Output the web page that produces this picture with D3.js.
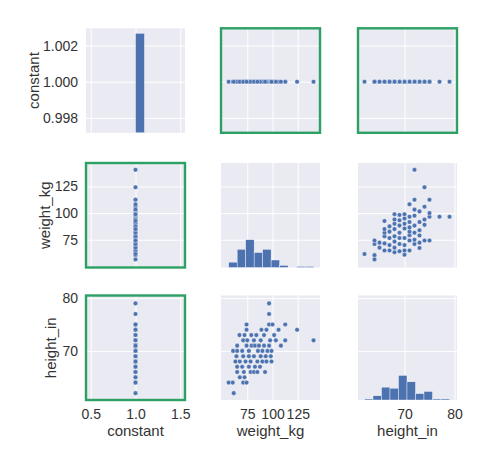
<!DOCTYPE html>
<html>
<head>
<meta charset="utf-8">
<script src="https://cdn.jsdelivr.net/npm/d3@7"></script>
<style>
  body { margin: 0; background: #ffffff; }
  text { font-family: "Liberation Sans", Arial, sans-serif; }
</style>
</head>
<body>
<svg id="chart" width="491" height="459"></svg>
<script>
// ---------------- data ----------------
const variables = ["constant", "weight_kg", "height_in"];

// paired observations: weight (kg) and height (in)
const weightKg = [
  96.6,
  96.6,
  74.3, 96.6, 100, 112.6,
  74.3, 89, 94, 106, 124.3,
  67.3, 72.3, 79, 84, 91.6, 101.6,
  71, 75, 81.6, 88.3, 97.6, 103.3, 112.6, 140.6,
  65, 74.3, 79.3, 82.6, 86.6, 91.6, 96.6, 108.3,
  61, 65, 70, 76.6, 85.6, 90, 95, 99,
  64.3, 71, 76.6, 81.6, 88.3, 93.3, 98.3,
  63.3, 67.6, 73.3, 78.3, 85, 90, 94, 99,
  65, 70, 76.6, 82.6, 87.6,
  65, 71.6, 78.3, 81.6, 85, 92.6,
  67.6, 72.3,
  56.6, 60.6, 71, 74.3,
  61.6
];
const heightIn = [
  79,
  77,
  75, 75, 75, 75,
  74, 74, 74, 74, 74,
  73, 73, 73, 73, 73, 73,
  72, 72, 72, 72, 72, 72, 72, 72,
  71, 71, 71, 71, 71, 71, 71, 71,
  70, 70, 70, 70, 70, 70, 70, 70,
  69, 69, 69, 69, 69, 69, 69,
  68, 68, 68, 68, 68, 68, 68, 68,
  67, 67, 67, 67, 67,
  66, 66, 66, 66, 66, 66,
  65, 65,
  64, 64, 64, 64,
  62
];
const constantValue = 1;

// histograms on the diagonal (bin edges and counts)
const constantHistEdges = [1.0, 1.1];
const constantHistCounts = [93];
const weightHistEdges = [56.6, 65, 73.4, 81.8, 90.2, 98.6, 107, 115.4, 123.8, 132.2, 140.6];
const weightHistCounts = [5, 17, 26, 14, 17, 7, 2, 0, 1, 1];
const heightHistEdges = [62, 63.7, 65.4, 67.1, 68.8, 70.5, 72.2, 73.9, 75.6, 77.3, 79];
const heightHistCounts = [1, 4, 12, 11, 23, 17, 6, 8, 1, 1];

// tick values
const constantXTicks = [0.5, 1.0, 1.5];
const constantYTicks = [0.998, 1.000, 1.002];
const weightTicks = [75, 100, 125];
const heightTicks = [70, 80];

// ---------------- layout ----------------
const svg = d3.select("#chart");
const colX = [86, 221, 358], colW = 99;
const rowY = [28.3, 163, 295.5], rowH = 104.5;
const bg = "#EAEAF2", blue = "#4C72B0", green = "#2ca065", textCol = "#333333";

const xDomains = {
  constant: [0.447, 1.553],
  weight_kg: [49, 147],
  height_in: [60.7, 80.5]
};
const yDomains = {
  constant: [0.99717, 1.00296],
  weight_kg: [49, 147],
  height_in: [60.7, 80.5]
};
const ticksFor = {
  x: { constant: constantXTicks, weight_kg: weightTicks, height_in: heightTicks },
  y: { constant: constantYTicks, weight_kg: weightTicks, height_in: heightTicks }
};
const fmt = {
  x: { constant: d3.format(".1f"), weight_kg: d3.format("d"), height_in: d3.format("d") },
  y: { constant: d3.format(".3f"), weight_kg: d3.format("d"), height_in: d3.format("d") }
};

const xScales = variables.map((v, j) => d3.scaleLinear().domain(xDomains[v]).range([colX[j], colX[j] + colW]));
const yScales = variables.map((v, i) => d3.scaleLinear().domain(yDomains[v]).range([rowY[i] + rowH, rowY[i]]));

const values = {
  constant: weightKg.map(() => constantValue),
  weight_kg: weightKg,
  height_in: heightIn
};
const hist = {
  constant: { edges: constantHistEdges, counts: constantHistCounts },
  weight_kg: { edges: weightHistEdges, counts: weightHistCounts },
  height_in: { edges: heightHistEdges, counts: heightHistCounts }
};
const maxCount = d3.max(constantHistCounts.concat(weightHistCounts, heightHistCounts));

variables.forEach((rv, i) => {
  variables.forEach((cv, j) => {
    const x = xScales[j], y = yScales[i];
    const g = svg.append("g");
    // background
    g.append("rect").attr("x", colX[j]).attr("y", rowY[i])
      .attr("width", colW).attr("height", rowH).attr("fill", bg);
    // grid lines
    const gx = g.append("g").attr("transform", `translate(0,${rowY[i] + rowH})`)
      .call(d3.axisBottom(x).tickValues(ticksFor.x[cv]).tickSize(-rowH).tickFormat(""));
    const gy = g.append("g").attr("transform", `translate(${colX[j]},0)`)
      .call(d3.axisLeft(y).tickValues(ticksFor.y[rv]).tickSize(-colW).tickFormat(""));
    [gx, gy].forEach(a => {
      a.select(".domain").remove();
      a.selectAll("line").attr("stroke", "#ffffff").attr("stroke-width", 1);
    });

    if (i === j) {
      const h = hist[cv];
      const cy = d3.scaleLinear().domain([0, maxCount * 1.05]).range([rowY[i] + rowH, rowY[i]]);
      const bins = h.counts.map((c, k) => ({ x0: h.edges[k], x1: h.edges[k + 1], c }));
      g.selectAll("rect.bar").data(bins.filter(b => b.c > 0)).join("rect")
        .attr("class", "bar")
        .attr("x", d => x(d.x0))
        .attr("width", d => Math.max(0, x(d.x1) - x(d.x0)))
        .attr("y", d => cy(d.c))
        .attr("height", d => cy(0) - cy(d.c))
        .attr("fill", blue)
        .attr("stroke", "#ffffff").attr("stroke-width", 0.4);
    } else {
      const pts = values[cv].map((vx, k) => [vx, values[rv][k]]);
      g.selectAll("circle").data(pts).join("circle")
        .attr("cx", d => x(d[0]))
        .attr("cy", d => y(d[1]))
        .attr("r", 2.3)
        .attr("fill", blue)
        .attr("stroke", "#ffffff").attr("stroke-width", 0.4);
    }

    if ((i === 0 || j === 0) && i !== j) {
      g.append("rect").attr("x", colX[j]).attr("y", rowY[i])
        .attr("width", colW).attr("height", rowH)
        .attr("fill", "none").attr("stroke", green).attr("stroke-width", 2.4);
    }

    // tick labels
    if (j === 0) {
      const a = g.append("g").attr("transform", `translate(${colX[0]},0)`)
        .call(d3.axisLeft(y).tickValues(ticksFor.y[rv]).tickSize(0).tickPadding(8).tickFormat(fmt.y[rv]));
      a.select(".domain").remove();
      a.selectAll("text").attr("font-size", 14).attr("fill", textCol)
        .style("font-family", '"Liberation Sans", Arial, sans-serif');
    }
    if (i === 2) {
      const a = g.append("g").attr("transform", `translate(0,${rowY[2] + rowH})`)
        .call(d3.axisBottom(x).tickValues(ticksFor.x[cv]).tickSize(0).tickPadding(9).tickFormat(fmt.x[cv]));
      a.select(".domain").remove();
      a.selectAll("text").attr("font-size", 14).attr("fill", textCol)
        .style("font-family", '"Liberation Sans", Arial, sans-serif');
    }
  });
});

// axis titles
variables.forEach((v, j) => {
  svg.append("text").attr("x", colX[j] + colW / 2).attr("y", 436)
    .attr("text-anchor", "middle").attr("font-size", 15).attr("fill", textCol).text(v);
});
const yLabelX = [39.3, 49.5, 55.5];
variables.forEach((v, i) => {
  const cy = rowY[i] + rowH / 2;
  svg.append("text").attr("transform", `translate(${yLabelX[i]},${cy}) rotate(-90)`)
    .attr("text-anchor", "middle").attr("font-size", 15).attr("fill", textCol).text(v);
});
</script>
</body>
</html>
